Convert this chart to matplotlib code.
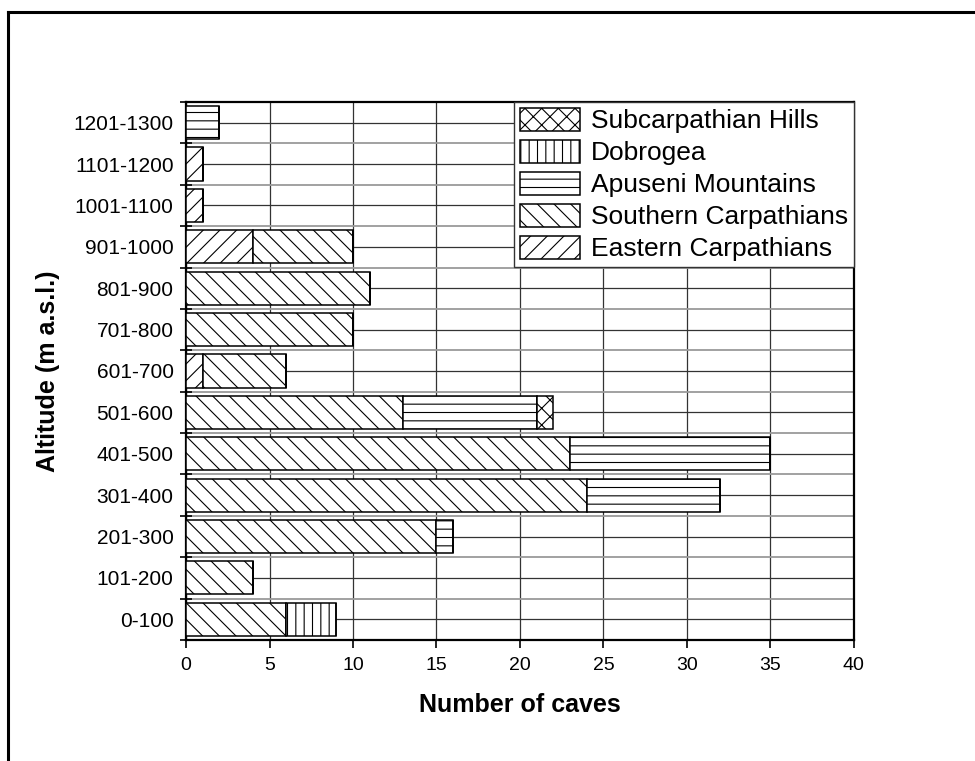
import numpy as np
import matplotlib
matplotlib.use("Agg")
import matplotlib.pyplot as plt
from matplotlib.lines import Line2D

plt.rcParams['font.family'] = ['Liberation Sans', 'DejaVu Sans']
plt.rcParams['hatch.linewidth'] = 0.8
plt.rcParams['hatch.color'] = 'black'

# Dados: classes de altitude e numero de grutas por regiao
altitudes = ['0-100', '101-200', '201-300', '301-400', '401-500', '501-600',
             '601-700', '701-800', '801-900', '901-1000', '1001-1100',
             '1101-1200', '1201-1300']
eastern = [0, 0, 0, 0, 0, 0, 1, 0, 0, 4, 1, 1, 0]
southern = [6, 4, 15, 24, 23, 13, 5, 10, 11, 6, 0, 0, 0]
apuseni = [0, 0, 1, 8, 12, 8, 0, 0, 0, 0, 0, 0, 2]
dobrogea = [3, 0, 0, 0, 0, 0, 0, 0, 0, 0, 0, 0, 0]
subcarp = [0, 0, 0, 0, 0, 1, 0, 0, 0, 0, 0, 0, 0]

series = [
    ('Eastern Carpathians', eastern, '//'),
    ('Southern Carpathians', southern, '\\\\'),
    ('Apuseni Mountains', apuseni, '--'),
    ('Dobrogea', dobrogea, '||'),
    ('Subcarpathian Hills', subcarp, 'xx'),
]

fig = plt.figure(figsize=(9.75, 7.61), dpi=100, facecolor='white')
ax = fig.add_axes([0.1908, 0.159, 0.685, 0.707])

y = np.arange(len(altitudes))
left = np.zeros(len(altitudes))
handles = []
for nome, vals, hatch in series:
    vals = np.array(vals, dtype=float)
    b = ax.barh(y, vals, height=0.8, left=left, color='white', edgecolor='black',
                linewidth=1.1, hatch=hatch, label=nome, zorder=3)
    handles.append(b)
    left = left + vals

ax.set_xlim(0, 40)
ax.set_ylim(-0.5, len(altitudes) - 0.5)
ax.set_xticks(np.arange(0, 41, 5))
ax.set_yticks(np.arange(-0.5, len(altitudes), 1.0))
ax.set_yticklabels([])
ax.set_yticks(y, minor=True)
ax.set_yticklabels(altitudes, minor=True)

ax.tick_params(axis='x', direction='out', length=6, width=1.2, labelsize=14, pad=6)
ax.tick_params(axis='y', which='major', direction='inout', length=9, width=1.2)
ax.tick_params(axis='y', which='minor', length=0, labelsize=15, pad=9)

ax.set_axisbelow(True)
ax.grid(axis='x', which='major', color='#333333', linewidth=0.9)
ax.grid(axis='y', which='minor', color='#333333', linewidth=0.9)
ax.grid(axis='y', which='major', color='#9a9a9a', linewidth=1.3)

for s in ax.spines.values():
    s.set_linewidth(1.6)

ax.set_xlabel('Number of caves', fontsize=18, fontweight='bold', labelpad=14)
ax.set_ylabel('Altitude (m a.s.l.)', fontsize=18, fontweight='bold', labelpad=10)

leg = ax.legend(handles[::-1], [h.get_label() for h in handles[::-1]],
                loc='upper right', borderaxespad=0, fontsize=19, fancybox=False,
                framealpha=1, edgecolor='#333333', handlelength=2.3,
                handleheight=0.95, labelspacing=0.25, handletextpad=0.4,
                borderpad=0.22)
leg.get_frame().set_linewidth(1.0)

# moldura externa (so lados esquerdo e superior visiveis)
fig.add_artist(Line2D([0.0085, 0.0085], [0, 0.984], transform=fig.transFigure,
                      color='black', linewidth=2.2))
fig.add_artist(Line2D([0.0085, 1.0], [0.984, 0.984], transform=fig.transFigure,
                      color='black', linewidth=2.2))

plt.savefig('out.png', dpi=100, facecolor='white')
plt.close()
